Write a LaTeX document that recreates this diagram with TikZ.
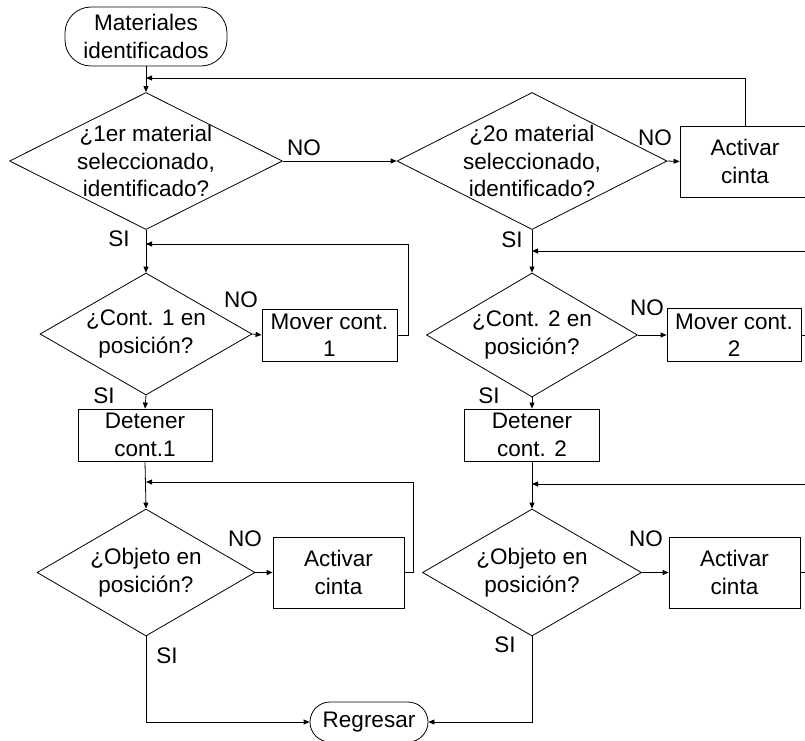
\documentclass[tikz,border=0pt]{standalone}
\usepackage{fontspec}
\setmainfont{Liberation Sans}
\usetikzlibrary{shapes.geometric,arrows.meta}
\begin{document}
\begin{tikzpicture}[x=1pt,y=-1pt,
  every node/.style={font=\fontsize{22.5}{27.5}\selectfont},
  line/.style={line width=0.8pt},
  arr/.style={line, -{Triangle[length=6pt,width=5pt]}},
  proc/.style={draw, line width=0.8pt, rectangle, align=center, inner sep=1pt},
  term/.style={draw, line width=0.8pt, rectangle, rounded corners=20pt, align=center, inner sep=1pt},
  dec/.style={draw, line width=0.8pt, diamond, inner sep=0pt},
  lbl/.style={anchor=base, inner sep=0pt}]
\useasboundingbox (0,0) rectangle (805,740);
\clip (0,0) rectangle (805,740);

% terminals
\node[term, rounded corners=26pt, minimum width=162pt, minimum height=59pt] (start) at (146,36.5) {Materiales\\identificados};
\node[term, minimum width=118pt, minimum height=40pt] (reg) at (369,722) {Regresar};

% first row of decisions
\node[dec, minimum width=273pt, minimum height=137pt,
  label={[align=center]center:{¿1er material\\seleccionado,\\identificado?}}] (d1) at (146,161) {};
\node[dec, minimum width=270pt, minimum height=137pt,
  label={[align=center]center:{¿2o material\\seleccionado,\\identificado?}}] (d2) at (532,161) {};
\node[proc, minimum width=130pt, minimum height=71pt] (a0) at (745,161.5) {Activar\\cinta};

% container 1 column
\node[dec, minimum width=212pt, minimum height=122pt,
  label={[align=center]center:{¿Cont. 1 en\\posición?}}] (c1) at (146,334) {};
\node[proc, minimum width=135pt, minimum height=52pt] (m1) at (329.5,335) {Mover cont.\\1};
\node[proc, minimum width=134pt, minimum height=52pt] (det1) at (145,435) {Detener\\cont.1};
\node[dec, minimum width=218pt, minimum height=127pt,
  label={[align=center]center:{¿Objeto en\\posición?}}] (o1) at (146,572.5) {};
\node[proc, minimum width=131pt, minimum height=71pt] (act1) at (338.5,572.5) {Activar\\cinta};

% container 2 column
\node[dec, minimum width=211pt, minimum height=124pt,
  label={[align=center]center:{¿Cont. 2 en\\posición?}}] (c2) at (532,335) {};
\node[proc, minimum width=134pt, minimum height=53pt] (m2) at (734,335) {Mover cont.\\2};
\node[proc, minimum width=135pt, minimum height=52pt] (det2) at (532,435) {Detener\\cont. 2};
\node[dec, minimum width=219pt, minimum height=127pt,
  label={[align=center]center:{¿Objeto en\\posición?}}] (o2) at (532,572.5) {};
\node[proc, minimum width=131pt, minimum height=71pt] (act2) at (734.5,572.5) {Activar\\cinta};

% junction points of the return lines
\coordinate (j0) at (146,78);
\coordinate (j1) at (146,244);
\coordinate (k1) at (408,335);
\coordinate (j2) at (146,482);
\coordinate (k2) at (413,572.5);
\coordinate (j3) at (532,251);
\coordinate (e1) at (805,251);
\coordinate (e2) at (805,335);
\coordinate (j4) at (532,484);
\coordinate (e3) at (805,484);
\coordinate (e4) at (805,572.5);

% connectors, first row
\draw[arr] (start.south) -- (d1.north);
\draw[arr] (a0.north) |- (j0);
\draw[arr] (d1.east) -- (d2.west);
\draw[arr] (d2.east) -- (a0.west);

% connectors, container 1
\draw[arr] (d1.south) -- (c1.north);
\draw[arr] (c1.east) -- (m1.west);
\draw[arr] (m1.east) -- (k1) |- (j1);
\draw[arr] (c1.south) -- (det1.north);
\draw[arr] (det1.south) -- (o1.north);
\draw[arr] (o1.east) -- (act1.west);
\draw[arr] (act1.east) -- (k2) |- (j2);
\draw[arr] (o1.south) |- (reg.west);

% connectors, container 2
\draw[arr] (d2.south) -- (c2.north);
\draw[arr] (e1) -- (j3);
\draw[arr] (c2.east) -- (m2.west);
\draw[line] (m2.east) -- (e2);
\draw[arr] (c2.south) -- (det2.north);
\draw[arr] (det2.south) -- (o2.north);
\draw[arr] (e3) -- (j4);
\draw[arr] (o2.east) -- (act2.west);
\draw[line] (act2.east) -- (e4);
\draw[arr] (o2.south) |- (reg.east);

% branch labels
\node[lbl] (no1) at (304,155) {NO};
\node[lbl] (no2) at (655,145) {NO};
\node[lbl] (si1) at (119,246) {SI};
\node[lbl] (si2) at (512,247) {SI};
\node[lbl] (no3) at (241,307) {NO};
\node[lbl] (no4) at (647,315) {NO};
\node[lbl] (si3) at (104,403) {SI};
\node[lbl] (si4) at (489,403) {SI};
\node[lbl] (no5) at (245,546) {NO};
\node[lbl] (no6) at (646,546) {NO};
\node[lbl] (si5) at (167,663) {SI};
\node[lbl] (si6) at (505,652) {SI};
\end{tikzpicture}
\end{document}
